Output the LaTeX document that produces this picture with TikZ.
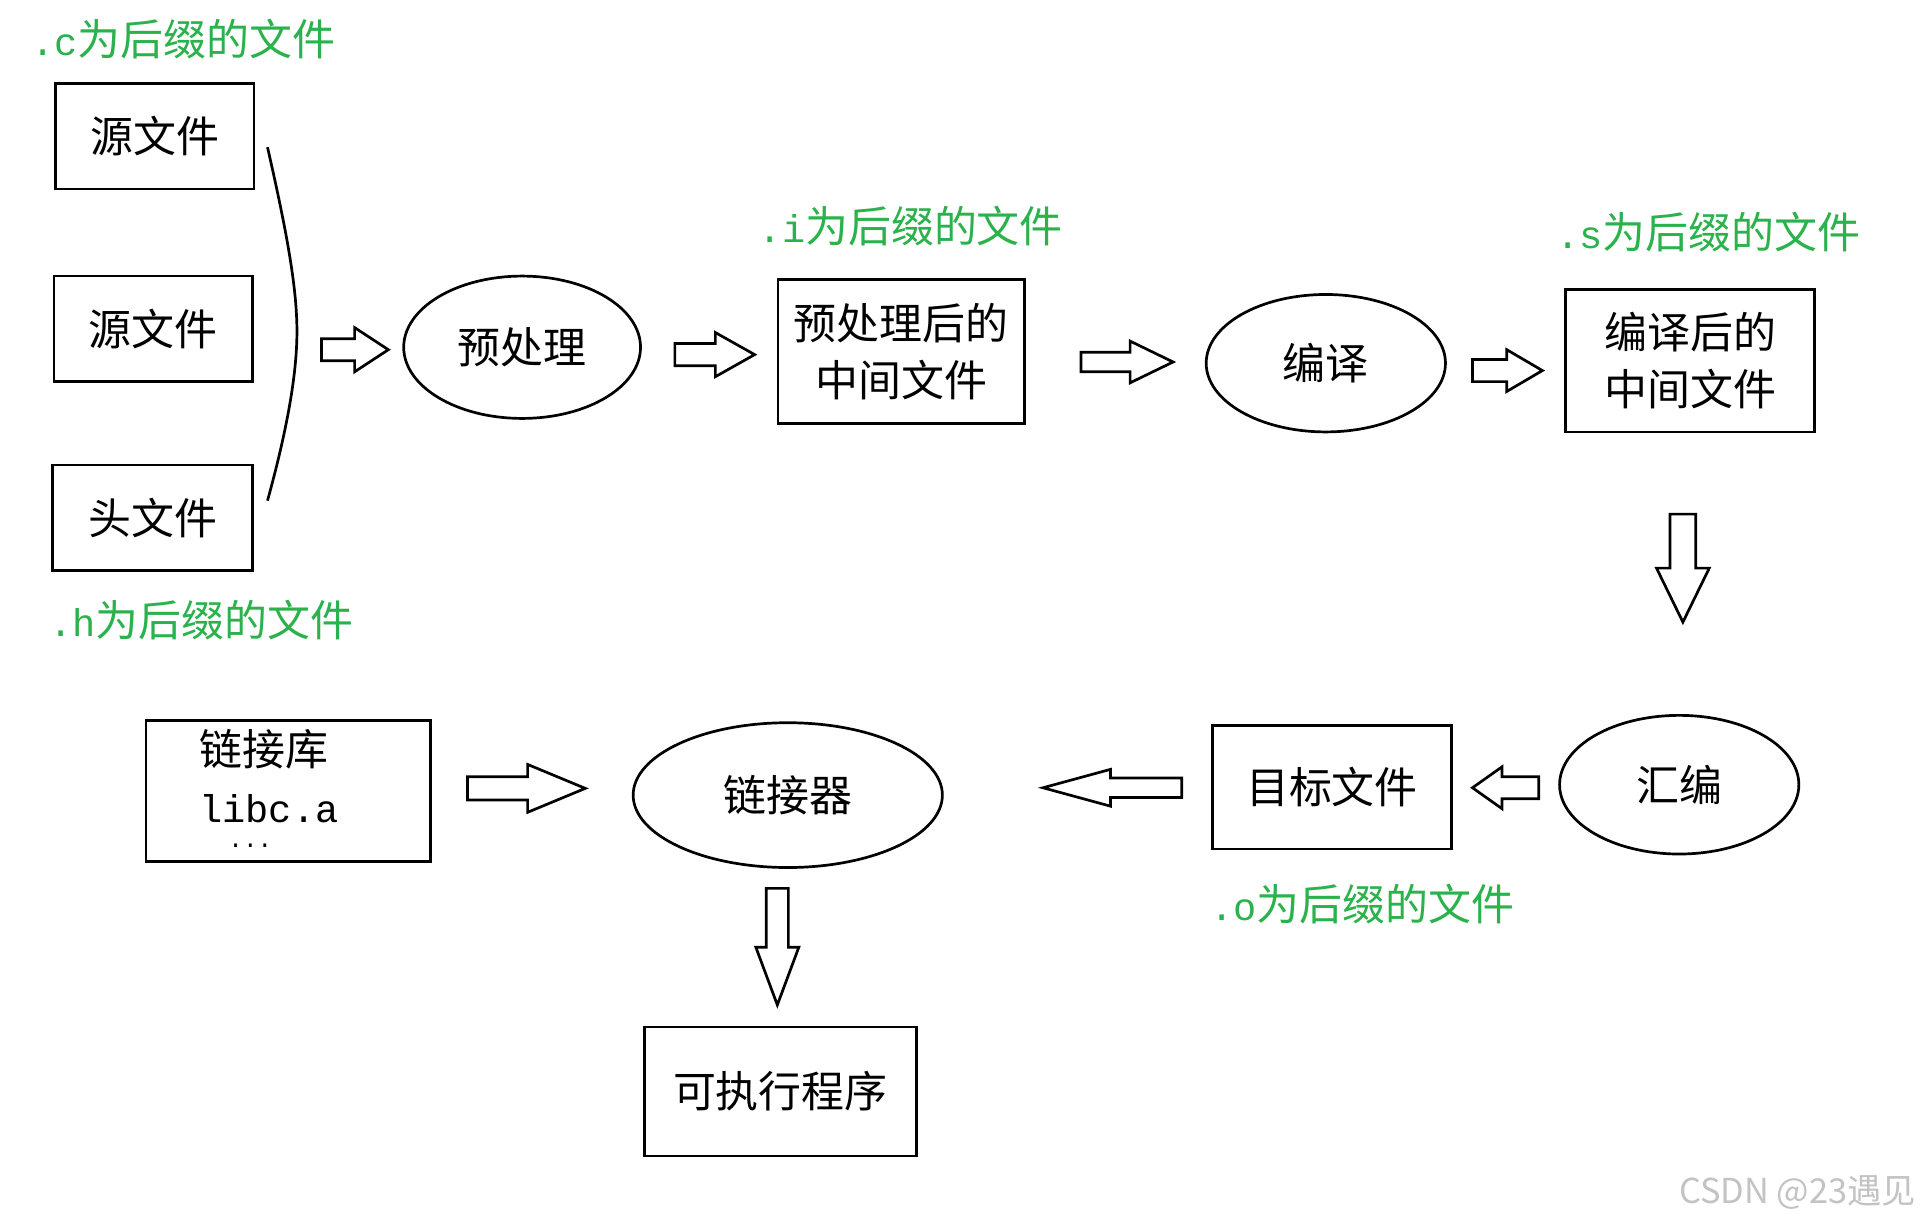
\documentclass[tikz,border=0pt]{standalone}
\usepackage{fontspec}
\setmainfont{Noto Sans CJK SC}
\newfontfamily\latmono[Scale=0.9]{Liberation Mono}
\usetikzlibrary{shapes.geometric}
\definecolor{labelgreen}{RGB}{43,178,76}
\definecolor{wmgray}{RGB}{195,195,195}
% horizontal block arrow: tail x, neck x, tip x, centre y, shaft half, head half
\newcommand\harrow[6]{\draw[blockarrow] (#1,#4-#5) -- (#2,#4-#5) -- (#2,#4-#6) -- (#3,#4) -- (#2,#4+#6) -- (#2,#4+#5) -- (#1,#4+#5) -- cycle;}
% vertical block arrow: centre x, tail y, neck y, tip y, shaft half, head half
\newcommand\varrow[6]{\draw[blockarrow] (#1-#5,#2) -- (#1+#5,#2) -- (#1+#5,#3) -- (#1+#6,#3) -- (#1,#4) -- (#1-#6,#3) -- (#1-#5,#3) -- cycle;}
\begin{document}
\begin{tikzpicture}[x=0.5pt,y=-0.5pt,
  txt/.style={font=\fontsize{17.5}{23}\selectfont},
  filebox/.style={txt,draw,line width=1.1pt,rectangle,inner sep=0pt,align=center},
  proc/.style={txt,draw,line width=1.1pt,ellipse,inner sep=0pt},
  note/.style={font=\fontsize{17.5}{23}\selectfont,text=labelgreen,anchor=west,inner sep=0pt},
  blockarrow/.style={draw,line width=1.1pt,line join=miter,fill=white},
  brace/.style={line width=1.1pt}]
\useasboundingbox (0,0) rectangle (1568,1000);

% green suffix labels
\node[note] (lc) at (25,32) {{\latmono .c}为后缀的文件};
\node[note] (lh) at (40,505) {{\latmono .h}为后缀的文件};
\node[note] (li) at (618,184) {{\latmono .i}为后缀的文件};
\node[note] (ls) at (1268,189) {{\latmono .s}为后缀的文件};
\node[note] (lo) at (986,737) {{\latmono .o}为后缀的文件};

% input files
\node[filebox,minimum width=81pt,minimum height=43pt] (src1) at (126,111) {源文件};
\node[filebox,minimum width=81pt,minimum height=43pt] (src2) at (125,268) {源文件};
\node[filebox,minimum width=81.5pt,minimum height=43pt] (hdr) at (124.5,422) {头文件};

% brace
\draw[brace] (218,120) .. controls (234,190) and (242,235) .. (242,270)
             .. controls (242,305) and (234,350) .. (218,408);

% first row
\node[proc,minimum width=96.5pt,minimum height=58pt] (pre) at (425.5,283) {预处理};
\node[filebox,minimum width=100.5pt,minimum height=58.5pt] (ifile) at (734.5,286.5) {预处理后的\\中间文件};
\node[proc,minimum width=97.5pt,minimum height=56pt] (comp) at (1080.5,296) {编译};
\node[filebox,minimum width=101.5pt,minimum height=58pt] (sfile) at (1377.5,294) {编译后的\\中间文件};

% second row
\node[proc,minimum width=97.5pt,minimum height=56.5pt] (asm) at (1368.5,639.5) {汇编};
\node[filebox,minimum width=97.5pt,minimum height=50.5pt] (obj) at (1085.5,641.5) {目标文件};
\node[proc,minimum width=126pt,minimum height=59pt] (link) at (642,648) {链接器};
\node[filebox,minimum width=116pt,minimum height=57.5pt] (lib) at (235,644.5) {};
\node[txt,anchor=base west,inner sep=0pt,align=left] (libtext) at (162,691)
  {链接库\\{\latmono libc.a}\\[-12.5pt]{\latmono\fontsize{11}{11}\selectfont\ \ ...}};
\node[filebox,minimum width=111pt,minimum height=52.5pt] (exe) at (636,889.5) {可执行程序};

% block arrows
\harrow{262}{289}{316.5}{285}{9}{18}
\harrow{550}{583}{615}{289}{9}{18}
\harrow{881}{921}{956}{295}{8}{17}
\harrow{1200}{1228}{1257}{302}{9}{17}
\varrow{1371.5}{419}{463}{507}{10.5}{21.5}
\harrow{1254}{1224}{1200}{642}{9}{17}
\harrow{963}{905}{850}{642}{8}{15}
\harrow{381}{430}{477}{642.5}{9.5}{19.5}
\varrow{633.5}{724}{772}{819}{9}{17.5}

% watermark
\node[anchor=east,inner sep=0pt,text=wmgray,font=\fontsize{14}{16}\selectfont] (wm) at (1562,972) {CSDN @23遇见};
\end{tikzpicture}
\end{document}
